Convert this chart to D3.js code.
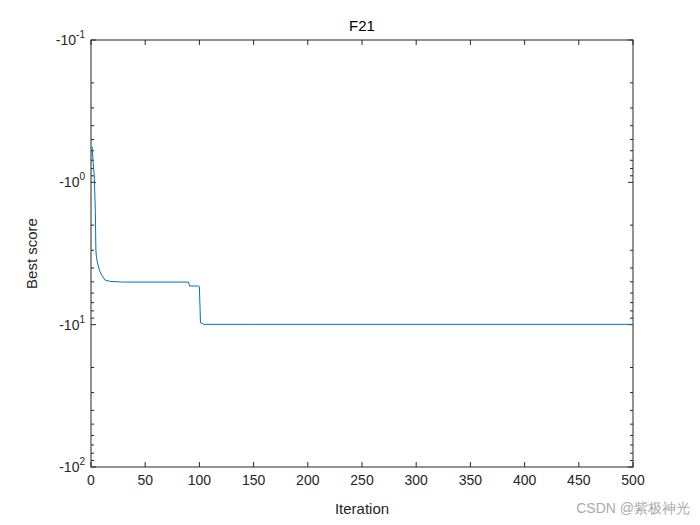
<!DOCTYPE html><html><head><meta charset="utf-8"><script src="https://cdn.jsdelivr.net/npm/d3@7"></script>
<style>body{margin:0;background:#fff}text{font-family:Arial,"Liberation Sans",sans-serif}</style></head><body><svg width="700" height="525"></svg>
<script>
const iterations=[1,2,3,4,4.5,5,6,8,10,13,18,27,30,60,90,91,99,100,101,104,150,300,500];
const bestScore=[-0.56,-0.73,-0.9,-1.6,-3.0,-3.35,-3.69,-4.2,-4.5,-4.86,-4.97,-5.01,-5.02,-5.02,-5.02,-5.35,-5.35,-5.4,-9.7,-9.95,-9.95,-9.95,-9.95];
const xTicks=[0,50,100,150,200,250,300,350,400,450,500];
const yTickExps=[-1,0,1,2];
const svg=d3.select("svg");
const L=91,R=633,T=40,B=467;
const x=d3.scaleLinear().domain([0,500]).range([L,R]);
const y=d3.scaleLog().domain([0.1,100]).range([T,B]);
svg.append("rect").attr("x",L).attr("y",T).attr("width",R-L).attr("height",B-T).attr("fill","#fff").attr("stroke","#262626");
const gx=svg.append("g");
xTicks.forEach(t=>{gx.append("line").attr("x1",x(t)).attr("x2",x(t)).attr("y1",B).attr("y2",B-5).attr("stroke","#262626");
gx.append("line").attr("x1",x(t)).attr("x2",x(t)).attr("y1",T).attr("y2",T+5).attr("stroke","#262626");
gx.append("text").attr("x",x(t)).attr("y",B+18).attr("text-anchor","middle").attr("font-size",14).attr("fill","#262626").text(t);});
const minor=[];for(let e=-1;e<2;e++)for(let k=2;k<10;k++)minor.push(k*Math.pow(10,e));
minor.forEach(v=>{[[L,L+3],[R,R-3]].forEach(([a,b])=>svg.append("line").attr("x1",a).attr("x2",b).attr("y1",y(v)).attr("y2",y(v)).attr("stroke","#262626"));});
yTickExps.forEach(e=>{const v=Math.pow(10,e);
[[L,L+5],[R,R-5]].forEach(([a,b])=>svg.append("line").attr("x1",a).attr("x2",b).attr("y1",y(v)).attr("y2",y(v)).attr("stroke","#262626"));
const t=svg.append("text").attr("x",L-6).attr("y",y(v)+5).attr("text-anchor","end").attr("font-size",14).attr("fill","#262626");
t.append("tspan").text("-10");t.append("tspan").attr("dy",-7).attr("font-size",10).text(e);});
svg.append("path").datum(iterations.map((d,i)=>[d,bestScore[i]])).attr("fill","none").attr("stroke","#0072BD").attr("stroke-width",1)
.attr("d",d3.line().x(d=>x(d[0])).y(d=>y(-d[1])));
svg.append("text").attr("x",(L+R)/2).attr("y",31).attr("text-anchor","middle").attr("font-size",15).attr("fill","#000").text("F21");
svg.append("text").attr("x",(L+R)/2).attr("y",514).attr("text-anchor","middle").attr("font-size",15).attr("fill","#262626").text("Iteration");
svg.append("text").attr("transform",`translate(37,${(T+B)/2}) rotate(-90)`).attr("text-anchor","middle").attr("font-size",15).attr("fill","#262626").text("Best score");
svg.append("text").attr("x",690).attr("y",513).attr("text-anchor","end").attr("font-size",14).attr("fill","#aaa").text("CSDN @紫极神光");
</script></body></html>
